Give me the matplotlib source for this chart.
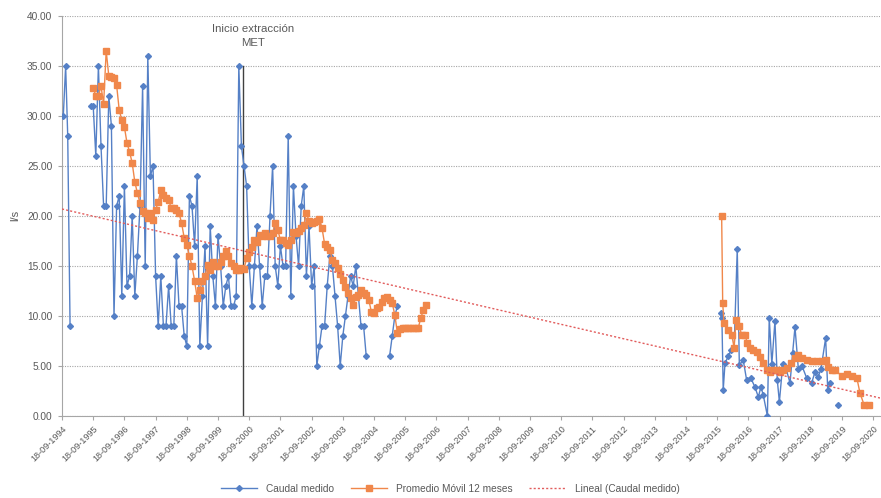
import matplotlib
matplotlib.use("Agg")
import matplotlib.pyplot as plt
import numpy as np

plt.rcParams['font.family'] = ['Liberation Sans', 'DejaVu Sans']

# ---------------- data (x = months after 18-09-1994) ----------------
tick_years = list(range(1994, 2021))

# Caudal medido (l/s)
blue_a_months = [0.5, 1.4, 2.2, 3.1]
blue_a_vals = [30, 35, 28, 9]

blue_b_start = 11
blue_b_vals = [31, 31, 26, 35, 27, 21, 21, 32, 29, 10,
               21, 22, 12, 23, 13, 14, 20, 12, 16, 21,
               33, 15, 36, 24, 25, 14, 9, 14, 9, 9,
               13, 9, 9, 16, 11, 11, 8, 7, 22, 21,
               17, 24, 7, 12, 17, 7, 19, 14, 11, 18,
               15, 11, 13, 14, 11, 11, 12, 35,
               27, 25, 23, 15, 11, 15, 19, 15, 11, 14,
               14, 20, 25, 15, 13, 17, 15, 15, 28, 12,
               23, 18, 15, 21, 23, 14, 19, 13, 15, 5,
               7, 9, 9, 13, 16, 15, 12, 9, 5, 8,
               10, 12, 14, 13, 15, 12, 9, 9, 6]

blue_c_start = 126
blue_c_vals = [6, 8, 10, 11]

blue_d_months = [253.5, 253.8, 254.3, 255.0, 256.3, 257.3, 258.5, 259.7, 260.5, 262.0,
                 263.3, 264.9, 266.5, 267.8, 268.8, 269.7, 271.3, 272.0, 273.0, 274.2,
                 275.1, 275.9, 277.2, 278.5, 280.0, 281.0, 281.9, 283.2, 284.6, 286.4,
                 288.3, 289.6, 290.8, 291.9, 293.7, 294.5, 295.4]
blue_d_vals = [10.3, 9.8, 2.6, 5.3, 6.0, 6.6, 6.8, 16.7, 5.1, 5.6,
               3.6, 3.8, 2.9, 1.9, 2.9, 2.1, 0.0, 9.8, 5.2, 9.5,
               3.6, 1.4, 5.2, 4.7, 3.3, 6.3, 8.9, 4.7, 5.0, 3.8,
               3.3, 4.4, 3.9, 4.7, 7.8, 2.6, 3.3]

blue_e_months = [298.6]
blue_e_vals = [1.1]

# Promedio Movil 12 meses
orange_a_start = 12
orange_a_vals = [32.8, 32.0, 32.0, 33.0, 31.2, 36.5, 34.0, 33.9, 33.8, 33.1,
                 30.6, 29.6, 28.9, 27.3, 26.4, 25.3, 23.4, 22.3, 21.3, 20.5,
                 20.3, 19.8, 20.3, 19.6, 20.6, 21.4, 22.6, 22.1, 21.8, 21.6,
                 20.8, 20.8, 20.6, 20.3, 19.3, 17.8, 17.1, 16.0, 15.0, 13.5,
                 11.8, 12.6, 13.5, 14.0, 15.1, 14.6, 15.4, 15.0,
                 15.0, 15.4, 16.0, 16.5, 16.0, 15.3, 15.0, 14.6, 14.6, 14.8,
                 14.7, 15.8, 16.4, 16.9, 17.6, 17.4, 18.1, 18.0, 18.3, 18.0,
                 18.0, 18.3, 19.3, 18.6, 17.6, 17.6, 17.3, 17.1, 17.6, 18.4,
                 18.3, 18.5, 18.8, 19.1, 20.3, 19.5, 19.3, 19.4, 19.5, 19.7,
                 18.8, 17.2, 16.9, 16.6, 15.6, 15.3, 14.8, 14.2, 13.6, 12.9,
                 12.3, 11.8, 11.1, 11.9, 12.1, 12.6, 12.3, 12.1, 11.6, 10.4,
                 10.3, 10.8, 10.9, 11.4, 11.8, 11.9, 11.6, 11.3, 10.1, 8.3,
                 8.7, 8.8, 8.8, 8.8, 8.8, 8.8, 8.8, 8.8, 9.8, 10.6,
                 11.1]

orange_b_months = [253.7, 254.1, 254.6, 256.3, 257.6, 258.5, 259.2, 260.5, 261.4, 262.7,
                   263.6, 264.6, 265.9, 267.2, 268.5, 269.7, 271.0, 272.3, 273.6, 274.9,
                   276.2, 277.4, 278.7, 280.3, 281.9, 283.2, 284.5, 286.4, 288.3, 290.3,
                   292.2, 293.7, 294.7, 296.0, 297.3, 299.9, 301.8, 303.7, 305.7, 306.9,
                   308.5, 310.5]
orange_b_vals = [20.0, 11.3, 9.3, 8.6, 8.1, 6.8, 9.6, 9.0, 8.1, 8.1,
                 7.3, 6.8, 6.6, 6.4, 5.9, 5.3, 4.6, 4.4, 4.6, 4.6,
                 4.4, 4.6, 4.8, 5.3, 5.8, 6.1, 5.8, 5.6, 5.5, 5.5,
                 5.5, 5.6, 4.9, 4.6, 4.6, 4.0, 4.2, 4.0, 3.8, 2.3,
                 1.1, 1.1]

# Lineal (Caudal medido): values at the left and right edges of the plot
trend_months = [0, 314.6]
trend_vals = [20.7, 1.8]

met_month = 69.8
met_top = 35
met_label = "Inicio extracción\nMET"

# ---------------- drawing ----------------
W, H = 881, 498
fig = plt.figure(figsize=(W / 100, H / 100), dpi=100)
ax = fig.add_axes([62 / W, 1 - 416 / H, (880 - 62) / W, 400 / H])

blue = '#5580c6'
orange = '#f0874a'
red = '#e25c5c'
grey_txt = '#595959'

bkw = dict(color=blue, lw=1.0, marker='D', ms=3.0, mec=blue, mfc=blue, zorder=3)
okw = dict(color=orange, lw=1.0, marker='s', ms=4.4, mec=orange, mfc=orange, zorder=4)

ax.plot(blue_a_months, blue_a_vals, **bkw)
ax.plot(np.arange(len(blue_b_vals)) + blue_b_start, blue_b_vals, **bkw)
ax.plot(np.arange(len(blue_c_vals)) + blue_c_start, blue_c_vals, **bkw)
ax.plot(blue_d_months, blue_d_vals, **bkw)
lb, = ax.plot(blue_e_months, blue_e_vals, **bkw)

ax.plot(np.arange(len(orange_a_vals)) + orange_a_start, orange_a_vals, **okw)
lo, = ax.plot(orange_b_months, orange_b_vals, **okw)

lt, = ax.plot(trend_months, trend_vals, color=red, lw=1.0, ls=(0, (1.5, 1.5)), zorder=5)

ax.plot([met_month, met_month], [0, met_top], color='#404040', lw=1.0, zorder=2)
ax.text(met_month + 3.5, 38.0, met_label, ha='center', va='center', fontsize=8.2,
        color=grey_txt, linespacing=1.55,
        bbox=dict(facecolor='white', edgecolor='none', pad=3), zorder=6)

ax.set_xlim(0, 314.6)
ax.set_ylim(0, 40)
ax.set_yticks(np.arange(0, 41, 5))
ax.set_yticklabels([f"{v:.2f}" for v in np.arange(0, 41, 5)])
ax.yaxis.grid(True, color='#a6a6a6', lw=0.8, ls=(0, (1, 1.2)))
ax.set_axisbelow(True)

ax.set_xticks([12 * (y - 1994) for y in tick_years])
ax.set_xticklabels([f"18-09-{y}" for y in tick_years], rotation=45, ha='right',
                   rotation_mode='anchor')

for s in ['top', 'right']:
    ax.spines[s].set_visible(False)
for s in ['left', 'bottom']:
    ax.spines[s].set_color('#a6a6a6')
    ax.spines[s].set_linewidth(0.8)
ax.tick_params(axis='both', colors='#a6a6a6', labelcolor=grey_txt, length=3, width=0.8)
ax.tick_params(axis='y', labelsize=7.3, pad=4)
ax.tick_params(axis='x', labelsize=6.6, pad=3)

fig.text(15 / W, 1 - 215 / H, 'l/s', rotation=90, ha='center', va='center',
         fontsize=8, color=grey_txt)

fig.legend([lb, lo, lt], ['Caudal medido', 'Promedio Móvil 12 meses', 'Lineal (Caudal medido)'],
           loc='center', bbox_to_anchor=(450 / W, 1 - 489 / H), ncol=3, frameon=False,
           fontsize=7.3, handlelength=3.6, handletextpad=0.9, columnspacing=1.6,
           labelcolor=grey_txt)

fig.savefig('out.png', dpi=100)
